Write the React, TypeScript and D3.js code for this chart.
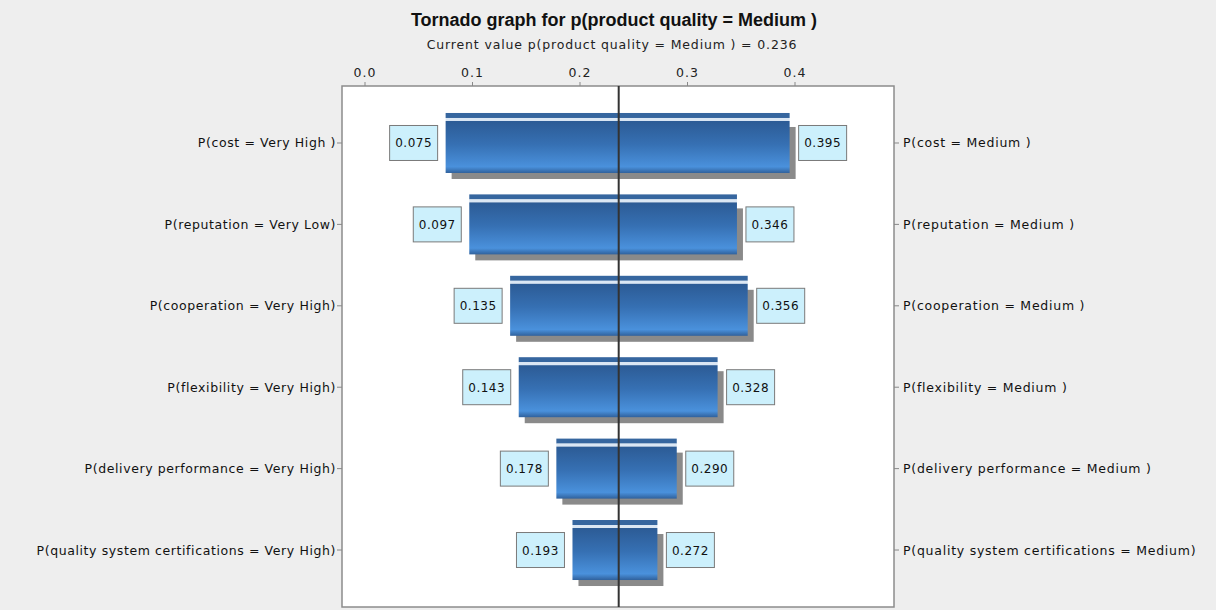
import * as d3 from "d3";

// tornado rows, top to bottom
const lowLabels = [
  "P(cost = Very High )",
  "P(reputation = Very Low)",
  "P(cooperation = Very High)",
  "P(flexibility = Very High)",
  "P(delivery performance = Very High)",
  "P(quality system certifications = Very High)",
];
const highLabels = [
  "P(cost = Medium )",
  "P(reputation = Medium )",
  "P(cooperation = Medium )",
  "P(flexibility = Medium )",
  "P(delivery performance = Medium )",
  "P(quality system certifications = Medium)",
];
const lowValues = [0.075, 0.097, 0.135, 0.143, 0.178, 0.193];
const highValues = [0.395, 0.346, 0.356, 0.328, 0.29, 0.272];
const currentValue = 0.236;
const xTicks = [0.0, 0.1, 0.2, 0.3, 0.4];

const W = 1216;
const H = 610;
const FONT = "DejaVu Sans, Verdana, sans-serif";

export default function App() {
  // plot frame
  const left = 342, right = 894, top = 86, bottom = 607;

  const x = d3.scaleLinear().domain([0, 0.4]).range([365, 795]);
  const y = d3
    .scalePoint<number>()
    .domain(d3.range(lowLabels.length))
    .range([top, bottom])
    .padding(0.7);

  const fmt = d3.format(".3f");

  return (
    <svg
      width={W}
      height={H}
      style={{ position: "absolute", left: 0, top: 0, background: "#eeeeee" }}
      fontFamily={FONT}
    >
      <defs>
        <linearGradient id="barGrad" x1="0" y1="0" x2="0" y2="1">
          <stop offset="0%" stopColor="#2c5b95" />
          <stop offset="45%" stopColor="#3670b3" />
          <stop offset="88%" stopColor="#4a91dc" />
          <stop offset="100%" stopColor="#30619c" />
        </linearGradient>
      </defs>

      {/* titles */}
      <text x={614} y={26} textAnchor="middle" fontSize={18} fontWeight="bold"
        fontFamily="Liberation Sans, Arial, sans-serif" fill="#111">
        Tornado graph for p(product quality = Medium )
      </text>
      <text x={612} y={49} textAnchor="middle" fontSize={12.5} letterSpacing={0.85} fill="#222">
        Current value p(product quality = Medium ) = 0.236
      </text>

      {/* plot frame */}
      <rect x={left} y={top} width={right - left} height={bottom - top}
        fill="#ffffff" stroke="#8c8c8c" strokeWidth={1.5} />

      {/* top axis */}
      {xTicks.map((t) => (
        <g key={t}>
          <line x1={x(t)} x2={x(t)} y1={top - 4} y2={top} stroke="#888" />
          <text x={x(t)} y={77} textAnchor="middle" fontSize={12.5} letterSpacing={1} fill="#222">
            {d3.format(".1f")(t)}
          </text>
        </g>
      ))}

      {/* bars */}
      {lowValues.map((lo, i) => {
        const hi = highValues[i];
        const c = y(i)!;
        const x0 = x(lo);
        const x1 = x(hi);
        return (
          <g key={i}>
            <rect x={x0} y={c - 30} width={x1 - x0} height={5} fill="#36669f" />
            <rect x={x0} y={c - 25} width={x1 - x0} height={3} fill="#dbe7f4" />
            <rect x={x0 + 6} y={c - 16} width={x1 - x0} height={52} fill="#8a8a8a" />
            <rect x={x0} y={c - 22} width={x1 - x0} height={52} fill="url(#barGrad)" />
          </g>
        );
      })}

      {/* current value line */}
      <line x1={x(currentValue)} x2={x(currentValue)} y1={top} y2={bottom}
        stroke="#333" strokeWidth={2} />

      {/* value boxes */}
      {lowValues.map((lo, i) => {
        const hi = highValues[i];
        const c = y(i)!;
        const bw = 48, bh = 35;
        const lx = x(lo) - 8 - bw;
        const rx = x(hi) + 9;
        return (
          <g key={i} fontSize={12} letterSpacing={0.5} fill="#111">
            <rect x={lx} y={c - bh / 2} width={bw} height={bh} fill="#ccf0fc" stroke="#7a7a7a" />
            <text x={lx + bw / 2} y={c + 4.5} textAnchor="middle">{fmt(lo)}</text>
            <rect x={rx} y={c - bh / 2} width={bw} height={bh} fill="#ccf0fc" stroke="#7a7a7a" />
            <text x={rx + bw / 2} y={c + 4.5} textAnchor="middle">{fmt(hi)}</text>
          </g>
        );
      })}

      {/* category labels */}
      {lowLabels.map((lab, i) => {
        const c = y(i)!;
        return (
          <g key={i} fontSize={12.5} letterSpacing={0.6} fill="#111">
            <line x1={left - 5} x2={left} y1={c} y2={c} stroke="#888" />
            <text x={left - 6} y={c + 4.5} textAnchor="end">{lab}</text>
            <line x1={right} x2={right + 5} y1={c} y2={c} stroke="#888" />
            <text x={right + 9} y={c + 4.5} letterSpacing={0.75}>{highLabels[i]}</text>
          </g>
        );
      })}
    </svg>
  );
}
